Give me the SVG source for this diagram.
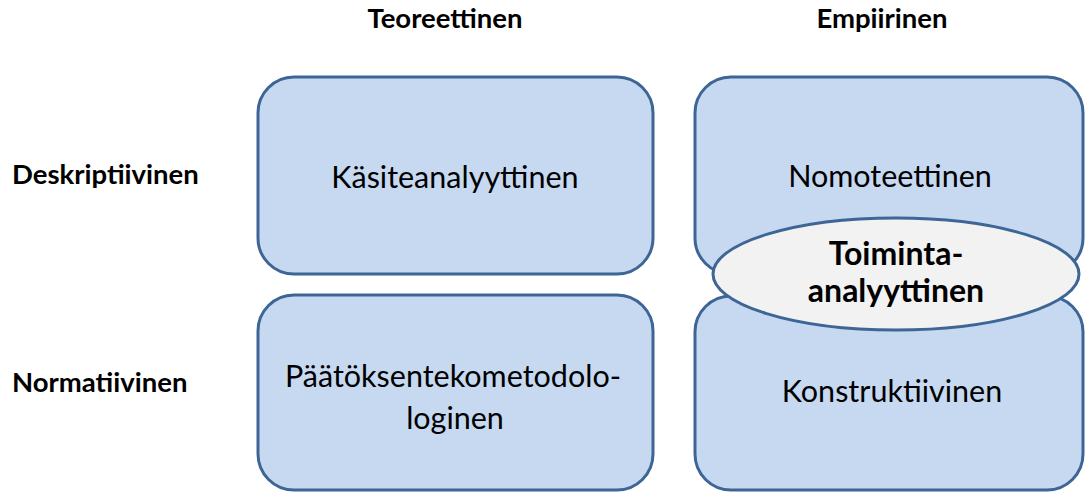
<svg xmlns="http://www.w3.org/2000/svg" width="1086" height="492" viewBox="0 0 1086 492">
<style>
.box{fill:#c6d9f1;stroke:#3d6595;stroke-width:3}
.ell{fill:#f2f2f2;stroke:#3d6595;stroke-width:3}
.hdr{font-family:Lato,"Open Sans",sans-serif;font-weight:bold;font-size:27.5px;fill:#000}
.lbl{font-family:Lato,"Open Sans",sans-serif;font-size:30.5px;fill:#000;text-anchor:middle}
.elbl{font-family:Lato,"Open Sans",sans-serif;font-weight:bold;font-size:32px;fill:#000;text-anchor:middle}
</style>
<rect width="1086" height="492" fill="#fff"/>
<g id="headers">
<text class="hdr" x="445" y="28" text-anchor="middle">Teoreettinen</text>
<text class="hdr" x="882" y="28" text-anchor="middle">Empiirinen</text>
<text class="hdr" x="12" y="184">Deskriptiivinen</text>
<text class="hdr" x="12" y="392">Normatiivinen</text>
</g>
<g id="connectors"></g>
<g id="kasiteanalyyttinen">
<rect class="box" x="258" y="77" width="395" height="197" rx="36"/>
<text class="lbl" x="455" y="188">Käsiteanalyyttinen</text>
</g>
<g id="nomoteettinen">
<rect class="box" x="695" y="77" width="388" height="197" rx="36"/>
<text class="lbl" x="890" y="187">Nomoteettinen</text>
</g>
<g id="paatoksentekometodologinen">
<rect class="box" x="258" y="295" width="395" height="195" rx="36"/>
<text class="lbl" x="453" y="387">Päätöksentekometodolo-</text>
<text class="lbl" x="455" y="429">loginen</text>
</g>
<g id="konstruktiivinen">
<rect class="box" x="695" y="296" width="388" height="194" rx="36"/>
<text class="lbl" x="892" y="402">Konstruktiivinen</text>
</g>
<g id="toiminta-analyyttinen">
<ellipse class="ell" cx="896" cy="274" rx="183" ry="56"/>
<text class="elbl" x="896" y="265">Toiminta-</text>
<text class="elbl" x="896" y="302">analyyttinen</text>
</g>
</svg>
